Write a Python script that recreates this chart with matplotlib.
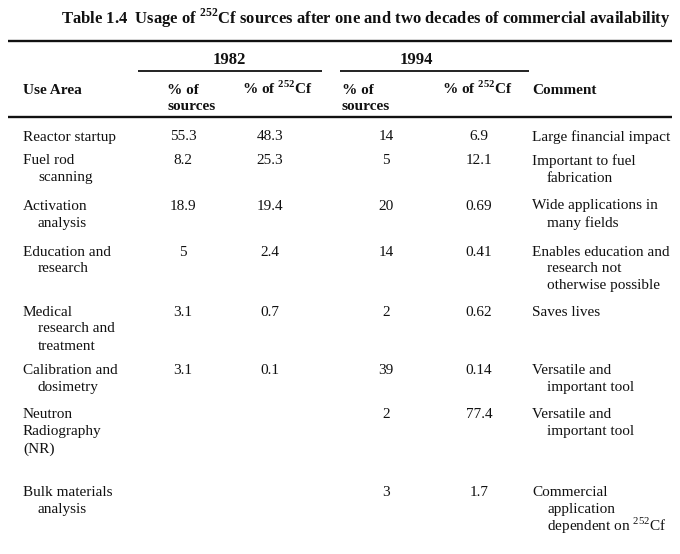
import matplotlib
matplotlib.use("Agg")
import matplotlib.pyplot as plt

plt.rcParams['font.family'] = ['Liberation Serif', 'DejaVu Serif']
plt.rcParams['mathtext.fontset'] = 'custom'
plt.rcParams['mathtext.rm'] = 'Liberation Serif'
plt.rcParams['mathtext.bf'] = 'Liberation Serif:bold'

# ---------------- data ----------------
title = r"Table 1.4  Usage of $^{\mathbf{252}}$Cf sources after one and two decades of commercial availability"
years = ["1982", "1994"]
col_headers = ["Use Area", "% of\nsources", r"% of $^{\mathbf{252}}$Cf",
               "% of\nsources", r"% of $^{\mathbf{252}}$Cf", "Comment"]
use_area = ["Reactor startup", "Fuel rod\nscanning", "Activation\nanalysis",
            "Education and\nresearch", "Medical\nresearch and\ntreatment",
            "Calibration and\ndosimetry", "Neutron\nRadiography\n(NR)",
            "Bulk materials\nanalysis"]
sources_1982 = [55.3, 8.2, 18.9, 5, 3.1, 3.1, None, None]
cf_1982 = [48.3, 25.3, 19.4, 2.4, 0.7, 0.1, None, None]
sources_1994 = [14, 5, 20, 14, 2, 39, 2, 3]
cf_1994 = [6.9, 12.1, 0.69, 0.41, 0.62, 0.14, 77.4, 1.7]
comments = ["Large financial impact", "Important to fuel\nfabrication",
            "Wide applications in\nmany fields",
            "Enables education and\nresearch not\notherwise possible",
            "Saves lives", "Versatile and\nimportant tool",
            "Versatile and\nimportant tool",
            "Commercial\napplication\ndependent on $^{252}$Cf"]
indent_area = [True, True, True, True, True, True, False, True]

# ---------------- layout (pixel coordinates) ----------------
W, H = 680, 554
fig = plt.figure(figsize=(W / 100, H / 100), dpi=100)
ax = fig.add_axes([0, 0, 1, 1])
ax.set_xlim(0, W)
ax.set_ylim(H, 0)
ax.axis('off')

FS = 11
LH = 17
row_y = [136, 160, 205, 251, 311, 370, 414, 492]
x_area, x_area_ind = 23, 38
x_s82, x_c82, x_s94, x_c94 = 183, 270, 386, 479
x_com, x_com_ind = 532, 547

def t(x, y, s, ha='left', bold=False, size=FS):
    ax.text(x, y + 4.5, s, ha=ha, va='baseline', fontsize=size,
            fontweight='bold' if bold else 'normal', color='#111111')

# title
t(366, 19, title, ha='center', bold=True, size=12)

# rules
ax.plot([8, 672], [41, 41], color='#111111', lw=1.7, solid_capstyle='butt')
ax.plot([8, 672], [117, 117], color='#111111', lw=1.7, solid_capstyle='butt')
ax.plot([138, 322], [71, 71], color='#111111', lw=1.3, solid_capstyle='butt')
ax.plot([340, 529], [71, 71], color='#111111', lw=1.3, solid_capstyle='butt')

# year headers
t(229, 59, years[0], ha='center', bold=True, size=12)
t(416, 59, years[1], ha='center', bold=True, size=12)

# column headers
hx = [23, 167, 242, 342, 442, 532]
for x, h in zip(hx, col_headers):
    for k, line in enumerate(h.split("\n")):
        t(x, 90 + k * 15, line, bold=True)

def fmt(v):
    return "" if v is None else str(v)

for i, y in enumerate(row_y):
    for k, line in enumerate(use_area[i].split("\n")):
        x = x_area if (k == 0 or not indent_area[i]) else x_area_ind
        t(x, y + k * LH, line)
    t(x_s82, y, fmt(sources_1982[i]), ha='center')
    t(x_c82, y, fmt(cf_1982[i]), ha='center')
    t(x_s94, y, fmt(sources_1994[i]), ha='center')
    t(x_c94, y, fmt(cf_1994[i]), ha='center')
    for k, line in enumerate(comments[i].split("\n")):
        x = x_com if k == 0 else x_com_ind
        t(x, y + k * LH, line)

fig.savefig("out.png", dpi=100, facecolor='white')
